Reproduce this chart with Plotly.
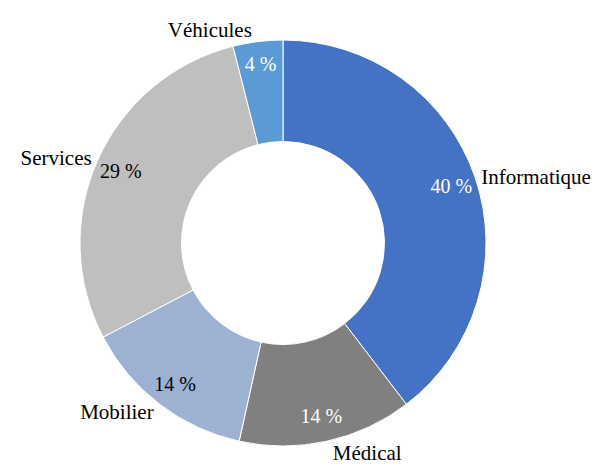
import plotly.graph_objects as go

categories = ["Informatique", "Médical", "Mobilier", "Services", "Véhicules"]
values = [40, 14, 14, 29, 4]
colors = ["#4472C4", "#808080", "#9DB1D2", "#BFBFBF", "#5B9BD5"]
pct_text_colors = ["white", "white", "black", "black", "white"]
pct_labels = [f"{v} %" for v in values]

FONT = "Liberation Serif"
W, H = 611, 466
OFF = 8  # page body margin
cx, cy, R = 283 - OFF, 243 - OFF, 203
dom_x = [(cx - R) / W, (cx + R) / W]
dom_y = [(H - cy - R) / H, (H - cy + R) / H]

fig = go.Figure()
# main donut with category names outside
fig.add_trace(go.Pie(
    labels=categories, values=values, sort=False, direction="clockwise", rotation=0,
    hole=0.5, domain=dict(x=dom_x, y=dom_y),
    marker=dict(colors=colors, line=dict(color="white", width=1)),
    textinfo="label", textposition="outside",
    outsidetextfont=dict(family=FONT, size=21, color="black"),
    showlegend=False, hoverinfo="label+value",
))
# transparent overlay placing percentage labels near the outer edge
fig.add_trace(go.Pie(
    labels=categories, values=values, sort=False, direction="clockwise", rotation=0,
    hole=0.75, domain=dict(x=dom_x, y=dom_y),
    marker=dict(colors=["rgba(0,0,0,0)"] * len(values), line=dict(width=0)),
    text=pct_labels, textinfo="text", textposition="inside", insidetextorientation="horizontal",
    insidetextfont=dict(family=FONT, size=20, color=pct_text_colors),
    showlegend=False, hoverinfo="skip",
))
fig.update_layout(
    width=W, height=H, margin=dict(l=0, r=0, t=0, b=0),
    paper_bgcolor="white", plot_bgcolor="white",
)
fig.write_html("out.html")
